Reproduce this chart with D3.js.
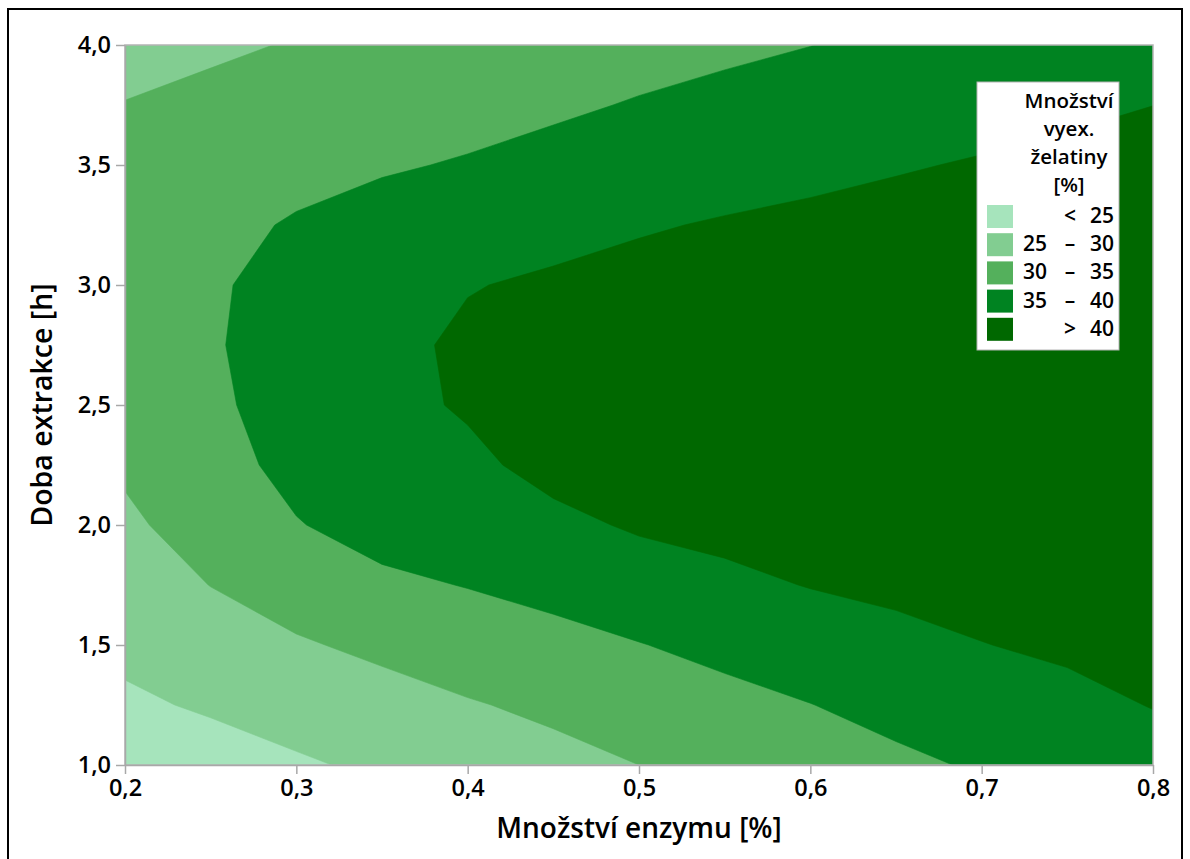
<!DOCTYPE html>
<html>
<head>
<meta charset="utf-8">
<script src="https://cdn.jsdelivr.net/npm/d3@7"></script>
<style>
body{margin:0;background:#fff}
text{font-family:"Open Sans",sans-serif;fill:#000}
</style>
</head>
<body>
<div id="chart"></div>
<script>
// grid of the surface
var enzyme = [0.20,0.25,0.30,0.35,0.40,0.45,0.50,0.55,0.60,0.65,0.70,0.75,0.80];
var time = [1.00,1.25,1.50,1.75,2.00,2.25,2.50,2.75,3.00,3.25,3.50,3.75,4.00];
// one row per time value, columns follow enzyme
var gelatin = [
  [22.7,23.19,24.42,25.82,27.2,28.64,30.0,31.38,32.74,34.1,35.46,36.8,38.2],
  [24.32,25.49,26.97,28.28,29.66,30.89,32.43,33.67,34.92,36.4,37.68,38.84,40.15],
  [25.95,27.78,29.52,30.95,32.42,33.62,34.85,36.19,37.57,38.84,39.9,40.7,41.55],
  [27.59,30.07,32.14,34.11,35.16,36.31,37.8,39.03,40.16,40.85,41.5,42.04,42.63],
  [29.23,31.93,34.77,36.7,37.03,38.97,40.5,41.2,41.58,42.1,42.63,43.0,43.4],
  [30.6,33.3,36.3,38.04,39.1,41.3,41.7,42.12,42.48,42.88,43.33,43.59,43.86],
  [31.31,34.19,36.86,38.8,40.45,41.59,42.26,42.58,42.86,43.19,43.6,43.8,44.0],
  [31.75,34.58,36.97,38.81,40.75,41.5,42.11,42.43,42.71,43.03,43.43,43.63,43.82],
  [31.84,34.48,36.47,38.09,39.8,40.61,41.26,41.67,42.03,42.4,42.82,43.09,43.33],
  [31.6,33.9,35.37,36.62,37.4,38.68,39.64,40.32,40.82,41.29,41.77,42.17,42.53],
  [31.02,32.82,33.73,34.57,35.33,36.38,37.47,38.27,39.02,39.7,40.29,40.87,41.41],
  [30.1,31.26,32.01,32.8,33.54,34.31,35.3,36.17,36.99,37.85,38.59,39.29,39.98],
  [28.84,29.21,30.3,31.03,31.8,32.59,33.38,34.17,34.95,36.0,36.9,37.7,38.3]
];
var levels = [25,30,35,40];
var bandLow = ["", "25", "30", "35", ""];
var bandMid = ["<", "–", "–", "–", ">"];
var bandHigh = ["25", "30", "35", "40", "40"];
var colors = ["#a6e4bc","#82cd91","#54b05c","#008321","#006800"];
var xTicks = [0.2,0.3,0.4,0.5,0.6,0.7,0.8];
var xTickLabels = ["0,2","0,3","0,4","0,5","0,6","0,7","0,8"];
var yTicks = [1.0,1.5,2.0,2.5,3.0,3.5,4.0];
var yTickLabels = ["1,0","1,5","2,0","2,5","3,0","3,5","4,0"];

var width = 1190, height = 859;
var marge = {top:45, left:125, right:37, bottom:94};
var pw = width - marge.left - marge.right, ph = height - marge.top - marge.bottom;

var svg = d3.select("#chart").append("svg")
  .attr("width", width).attr("height", height);

// outer frame
svg.append("rect")
  .attr("x", 8).attr("y", 9).attr("width", 1174).attr("height", 870)
  .attr("fill", "none").attr("stroke", "#000").attr("stroke-width", 2);

var xScale = d3.scaleLinear().domain([0.2,0.8]).range([0,pw]);
var yScale = d3.scaleLinear().domain([1,4]).range([ph,0]);

var g = svg.append("g")
  .attr("transform", "translate(" + marge.left + "," + marge.top + ")");

svg.append("clipPath").attr("id", "plotclip")
  .append("rect").attr("width", pw).attr("height", ph);

var plot = g.append("g").attr("clip-path", "url(#plotclip)");

plot.append("rect")
  .attr("width", pw).attr("height", ph)
  .attr("fill", colors[0]);

var nx = enzyme.length, ny = time.length;
var du = enzyme[1] - enzyme[0], dv = time[1] - time[0];
var values = [];
gelatin.forEach(function(row){ row.forEach(function(v){ values.push(v); }); });

var bands = d3.contours().size([nx, ny]).thresholds(levels)(values);

// grid coordinates -> data -> pixels (samples sit at cell centres)
var toPlot = d3.geoTransform({
  point: function(px, py){
    this.stream.point(xScale(enzyme[0] + (px - 0.5) * du), yScale(time[0] + (py - 0.5) * dv));
  }
});
var path = d3.geoPath(toPlot);

plot.selectAll(".band")
  .data(bands)
  .enter()
  .append("path")
  .attr("class", "band")
  .attr("d", path)
  .attr("fill", function(d,i){ return colors[i+1]; })
  .attr("stroke", function(d,i){ return colors[i+1]; })
  .attr("stroke-width", 0.6);

// plot frame
g.append("rect")
  .attr("width", pw).attr("height", ph)
  .attr("fill", "none").attr("stroke", "#b4b4b4").attr("stroke-width", 1.5);

var xAxis = d3.axisBottom(xScale).tickValues(xTicks)
  .tickFormat(function(d,i){ return xTickLabels[i]; })
  .tickSize(9).tickSizeOuter(0).tickPadding(5);
var yAxis = d3.axisLeft(yScale).tickValues(yTicks)
  .tickFormat(function(d,i){ return yTickLabels[i]; })
  .tickSize(9).tickSizeOuter(0).tickPadding(5);

var gx = g.append("g").attr("transform", "translate(0," + ph + ")").call(xAxis);
var gy = g.append("g").call(yAxis);
[gx, gy].forEach(function(a){
  a.select(".domain").attr("stroke", "#a8a8a8").attr("stroke-width", 1.5);
  a.selectAll(".tick line").attr("stroke", "#a8a8a8").attr("stroke-width", 1.5);
  a.selectAll(".tick text").attr("font-size", 23.5).attr("font-weight", 600)
    .attr("font-family", "'Open Sans', sans-serif").attr("fill", "#000");
});

svg.append("text")
  .attr("x", marge.left + pw/2).attr("y", 838)
  .attr("text-anchor", "middle")
  .attr("font-size", 28).attr("font-weight", 600)
  .text("Množství enzymu [%]");

svg.append("text")
  .attr("transform", "translate(52," + (marge.top + ph/2) + ") rotate(-90)")
  .attr("text-anchor", "middle")
  .attr("font-size", 28.5).attr("font-weight", 600)
  .text("Doba extrakce [h]");

// legend
var lg = svg.append("g").attr("transform", "translate(977,82)");
lg.append("rect")
  .attr("width", 142).attr("height", 268)
  .attr("fill", "#fff").attr("stroke", "#b4b4b4").attr("stroke-width", 1);

var titleLines = ["Množství", "vyex.", "želatiny", "[%]"];
lg.selectAll(".ltitle")
  .data(titleLines)
  .enter()
  .append("text")
  .attr("class", "ltitle")
  .attr("x", 92).attr("y", function(d,i){ return 26 + i*28; })
  .attr("text-anchor", "middle")
  .attr("font-size", 20.5).attr("font-weight", 600)
  .text(function(d){ return d; });

var rows = lg.selectAll(".lrow")
  .data(colors)
  .enter()
  .append("g")
  .attr("class", "lrow")
  .attr("transform", function(d,i){ return "translate(0," + (123 + i*28.2) + ")"; });

rows.append("rect")
  .attr("x", 10).attr("width", 26).attr("height", 23)
  .attr("fill", function(d){ return d; });
rows.append("text")
  .attr("x", 70).attr("y", 18).attr("text-anchor", "end")
  .attr("font-size", 21).attr("font-weight", 600)
  .text(function(d,i){ return bandLow[i]; });
rows.append("text")
  .attr("x", 93).attr("y", 18).attr("text-anchor", "middle")
  .attr("font-size", 21).attr("font-weight", 600)
  .text(function(d,i){ return bandMid[i]; });
rows.append("text")
  .attr("x", 137).attr("y", 18).attr("text-anchor", "end")
  .attr("font-size", 21).attr("font-weight", 600)
  .text(function(d,i){ return bandHigh[i]; });
</script>
</body>
</html>
